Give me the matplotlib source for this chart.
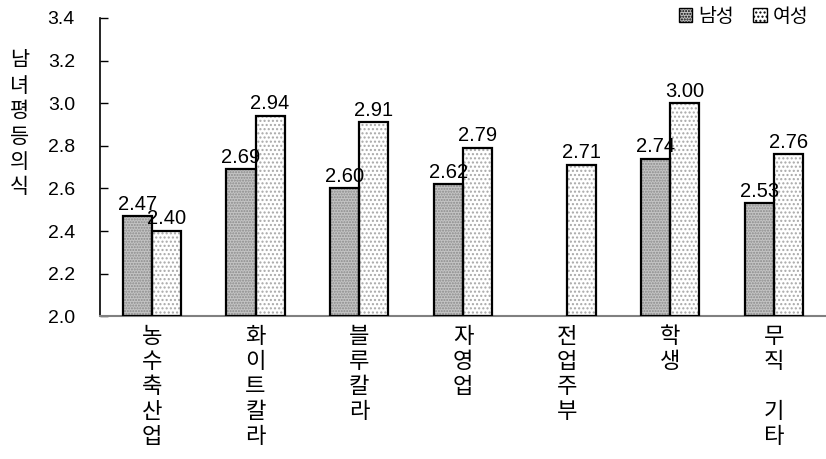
import matplotlib.pyplot as plt
import numpy as np
from matplotlib.patches import Patch

plt.rcParams['font.family'] = ['Liberation Sans', 'Noto Sans CJK KR']

categories = ["농\n수\n축\n산\n업", "화\n이\n트\n칼\n라", "블\n루\n칼\n라", "자\n영\n업",
              "전\n업\n주\n부", "학\n생", "무\n직\n\n기\n타"]
male = [2.47, 2.69, 2.60, 2.62, None, 2.74, 2.53]
female = [2.40, 2.94, 2.91, 2.79, 2.71, 3.00, 2.76]
yticks = [2.0, 2.2, 2.4, 2.6, 2.8, 3.0, 3.2, 3.4]

fig = plt.figure(figsize=(8.26, 4.59), dpi=100)
ax = fig.add_axes([0.121, 0.311, 0.879, 0.65])

x = np.arange(len(categories))
w = 0.28


def draw(xs, vals, face, hatch, hcol):
    # hatch layer first, then a plain black outline on top
    ax.bar(xs, [v - 2.0 for v in vals], w, bottom=2.0, color=face,
           hatch=hatch, edgecolor=hcol, linewidth=0, zorder=2)
    ax.bar(xs, [v - 2.0 for v in vals], w, bottom=2.0, fill=False,
           edgecolor='black', linewidth=1.6, zorder=3)
    for xi, v in zip(xs, vals):
        ax.text(xi, v + 0.012, f"{v:.2f}", ha='center', va='bottom',
                fontsize=14.5, zorder=4)


mx = [xi - w / 2 for xi, v in zip(x, male) if v is not None]
mv = [v for v in male if v is not None]
draw(mx, mv, '#c4c4c4', '......', '#8a8a8a')
draw(x + w / 2, female, 'white', '....', '#a8a8a8')

ax.set_xlim(-0.5, 6.5)
ax.set_ylim(2.0, 3.4)
ax.set_yticks(yticks)
ax.set_yticklabels([f"{t:.1f}" for t in yticks], fontsize=14)
ax.tick_params(axis='y', direction='in', length=6, width=1, pad=18)
ax.set_xticks(x)
ax.set_xticklabels(categories, fontsize=16, linespacing=1.12, va='top',
                   family=['Noto Sans CJK KR'])
ax.tick_params(axis='x', length=0, pad=6)
for s in ['top', 'right']:
    ax.spines[s].set_visible(False)
ax.spines['left'].set_linewidth(1.2)
ax.spines['bottom'].set_color('#808080')
ax.spines['bottom'].set_linewidth(1.5)

fig.text(0.024, 0.73, "남\n녀\n평\n등\n의\n식", fontsize=15, linespacing=1.2,
         ha='center', va='center', family=['Noto Sans CJK KR'])

handles = [Patch(facecolor='#c4c4c4', edgecolor='black', hatch='......'),
           Patch(facecolor='white', edgecolor='black', hatch='....')]
ax.legend(handles, ["남성", "여성"], loc='upper right', bbox_to_anchor=(1.0, 1.1),
          ncol=2, frameon=False, handlelength=0.7, handleheight=0.7,
          handletextpad=0.3, columnspacing=1.0,
          prop={'family': ['Noto Sans CJK KR'], 'size': 14})

fig.savefig("out.png", dpi=100)
